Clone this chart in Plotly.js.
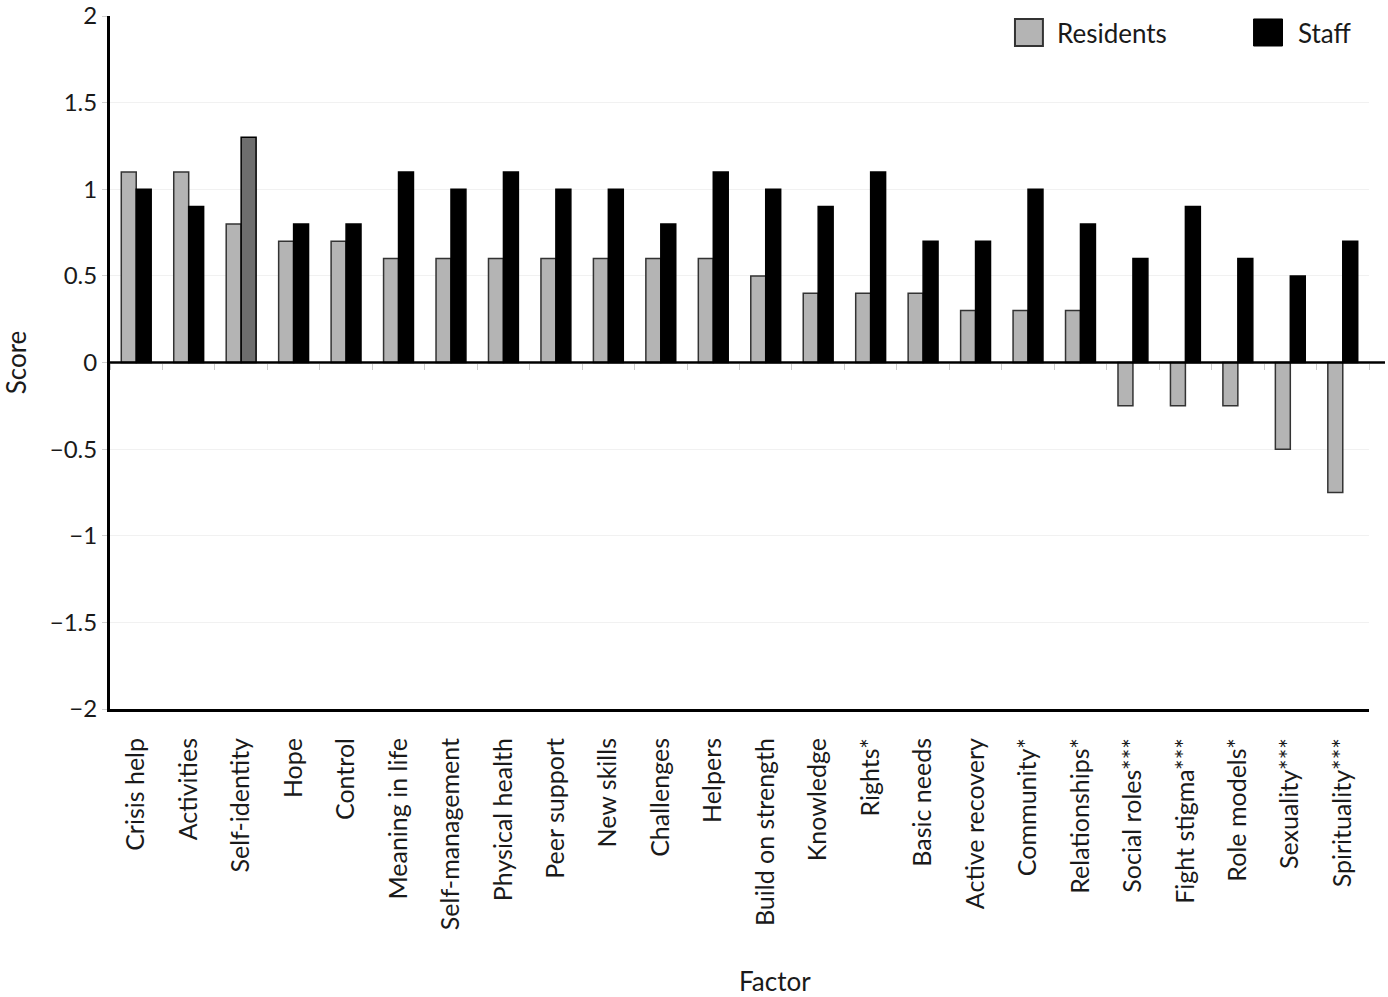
<!DOCTYPE html>
<html>
<head>
<meta charset="utf-8">
<script src="https://cdn.plot.ly/plotly-3.0.1.min.js"></script>
<style>html,body{margin:0;padding:0;background:#fff;}#chart{width:1388px;height:997px;}</style>
</head>
<body>
<div id="chart"></div>
<script>
const categories = ["Crisis help","Activities","Self-identity","Hope","Control","Meaning in life","Self-management","Physical health","Peer support","New skills","Challenges","Helpers","Build on strength","Knowledge","Rights*","Basic needs","Active recovery","Community*","Relationships*","Social roles***","Fight stigma***","Role models*","Sexuality***","Spirituality***"];
const residents = [1.1,1.1,0.8,0.7,0.7,0.6,0.6,0.6,0.6,0.6,0.6,0.6,0.5,0.4,0.4,0.4,0.3,0.3,0.3,-0.25,-0.25,-0.25,-0.5,-0.75];
const staff = [1.0,0.9,1.3,0.8,0.8,1.1,1.0,1.1,1.0,1.0,0.8,1.1,1.0,0.9,1.1,0.7,0.7,1.0,0.8,0.6,0.9,0.6,0.5,0.7];
const yTicks = [-2,-1.5,-1,-0.5,0,0.5,1,1.5,2];
const yTickText = ["\u22122","\u22121.5","\u22121","\u22120.5","0","0.5","1","1.5","2"];

const staffColors = staff.map((v,i)=> categories[i]==="Self-identity" ? "#6e6e6e" : "#000000");

const FONT = "Lato, 'Open Sans', sans-serif";

const traces = [
  {type:"bar", name:"Residents", x:categories, y:residents,
   marker:{color:"#b4b4b4", line:{color:"#333333", width:1.5}}, showlegend:false},
  {type:"bar", name:"Staff", x:categories, y:staff,
   marker:{color:staffColors, line:{color:"#000000", width:1.5}}, showlegend:false},
  {type:"bar", x:categories, y:staff.map(()=>null), xaxis:"x2", yaxis:"y", showlegend:false, hoverinfo:"skip"}
];

const layout = {
  width:1388, height:997,
  margin:{l:110, r:19, t:16, b:288},
  paper_bgcolor:"#ffffff", plot_bgcolor:"#ffffff",
  font:{family:FONT, size:22, color:"#1a1a1a"},
  barmode:"group", bargap:0.43, bargroupgap:0,
  showlegend:false,
  xaxis:{
    type:"category", showgrid:false, zeroline:false,
    showline:true, linecolor:"#000", linewidth:3, mirror:false,
    ticks:"", tickangle:-90, ticklabelstandoff:16,
    tickfont:{family:FONT, size:25, color:"#1a1a1a"}
  },
  xaxis2:{
    type:"category", overlaying:"x", matches:"x", anchor:"free", position:0.5,
    showgrid:false, zeroline:false, showline:false, showticklabels:false,
    ticks:"outside", tickson:"boundaries", ticklen:6, tickcolor:"#cccccc", tickwidth:1
  },
  yaxis:{
    range:[-2,2], tickvals:yTicks, ticktext:yTickText, ticklabeloverflow:"allow",
    showgrid:true, gridcolor:"#f1f1f1", gridwidth:1,
    zeroline:false, showline:true, linecolor:"#000", linewidth:3,
    ticks:"outside", ticklen:5, tickcolor:"#d0d0d0",
    tickfont:{family:FONT, size:24, color:"#1a1a1a"},
    title:{text:"Score", font:{family:FONT, size:26, color:"#1a1a1a"}, standoff:22}
  },
  shapes:[
    {type:"line", xref:"paper", yref:"y", x0:0, x1:1.0127, y0:0, y1:0, line:{color:"#000", width:2.5}, layer:"above"},
    {type:"rect", xref:"paper", yref:"paper", x0:0.7188, x1:0.7410, y0:0.9567, y1:0.9957, fillcolor:"#b4b4b4", line:{color:"#333", width:2}},
    {type:"rect", xref:"paper", yref:"paper", x0:0.9083, x1:0.9313, y0:0.9567, y1:0.9957, fillcolor:"#000", line:{color:"#000", width:1}}
  ],
  annotations:[
    {text:"Residents", xref:"paper", yref:"paper", x:0.7505, y:0.9755, xanchor:"left", yanchor:"middle", showarrow:false, font:{family:FONT, size:26, color:"#1a1a1a"}},
    {text:"Staff", xref:"paper", yref:"paper", x:0.9424, y:0.9755, xanchor:"left", yanchor:"middle", showarrow:false, font:{family:FONT, size:26, color:"#1a1a1a"}},
    {text:"Factor", xref:"paper", yref:"paper", x:0.528, y:-0.3925, xanchor:"center", yanchor:"middle", showarrow:false, font:{family:FONT, size:26, color:"#1a1a1a"}}
  ]
};

Plotly.newPlot("chart", traces, layout, {displayModeBar:false, staticPlot:true});
</script>
</body>
</html>
